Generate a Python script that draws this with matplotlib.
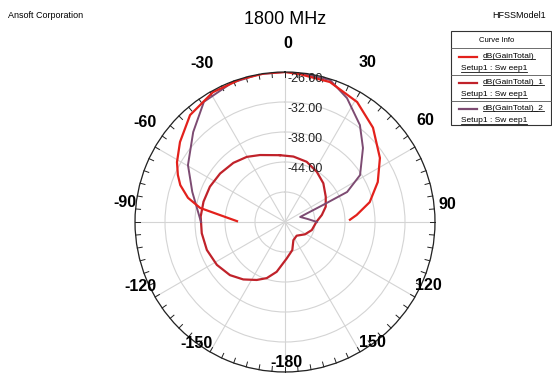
import numpy as np
import matplotlib
matplotlib.use("Agg")
import matplotlib.pyplot as plt
from matplotlib.lines import Line2D
from matplotlib.patches import Rectangle
from matplotlib.transforms import offset_copy

plt.rcParams["font.family"] = ["Liberation Sans", "DejaVu Sans"]

# ---- datos (theta en grados, ganancia en dB) ----
theta_total = [-89, -84, -80.6, -76, -70.6, -66.3, -61, -52.7, -41.6, -29,
               -17.4, -8, 0, 5.8, 17.8, 31, 43, 56, 66.7, 76.8, 84.4, 88]
db_total = [-46.4, -43.0, -38.8, -36.0, -33.8, -32.6, -31.3, -29.6, -27.4, -26.3,
            -26.1, -26.0, -26.0, -26.3, -26.6, -28.0, -30.2, -33.1, -35.8, -38.6,
            -41.6, -43.0]

theta_total1 = [-4.3, 7.3, 19.8, 32.2, 44.7, 58.1, 69.4, 79.2, 89.5, 106.7,
                121.6, 139.5, 155.2, 165.4, 177.3, 189.5, 198, 206, 216, 226,
                237.8, 250.3, 262.3, 273.6, 284, 295.2, 306.8, 318.9, 329.6,
                339.5, 355.7]
db_total1 = [-42.6, -42.8, -43.2, -44.1, -45.1, -46.4, -47.3, -48.5, -49.7, -50.4,
             -51.3, -52.4, -52.0, -50.2, -48.7, -45.9, -44.2, -43.1, -41.8, -40.7,
             -39.9, -39.4, -39.2, -39.1, -39.2, -39.4, -39.8, -40.3, -40.9,
             -41.7, -42.6]

theta_total2 = [-90, -83.4, -72, -59.6, -45.6, -34, -20.9, -10, 0, 4.6, 17.6,
                26.6, 37.7, 46.5, 58, 64.2, 65.9, 71.6, 82.6, 90]
db_total2 = [-39.2, -38.5, -36.5, -33.5, -30.3, -27.0, -26.2, -26.0, -26.0, -26.0,
             -26.2, -28.3, -31.5, -34.5, -38.3, -42.2, -47.7, -52.8, -51.4, -49.6]

curvas = ["dB(GainTotal)", "dB(GainTotal)_1", "dB(GainTotal)_2"]
colores = ["#E3211C", "#C0222A", "#7D4B72"]

anillos = [-50, -44, -38, -32, -26]
etiquetas_anillo = ["-26.00", "-32.00", "-38.00", "-44.00"]
R_MIN, R_MAX = -56, -26

textos_etq = ["0", "30", "-30", "60", "-60", "90", "-90", "120", "-120",
              "150", "-150", "-180"]
# posicion del texto: angulo real y distancia al centro en px
pos_etq = [(1, 179), (27.3, 179), (-27.6, 179), (54, 173), (-54.5, 172),
           (83.7, 163), (-83, 161), (114, 157), (-114, 158), (144, 149),
           (-144, 150), (179.5, 141)]

W, H = 552, 374
fig = plt.figure(figsize=(W / 100, H / 100), dpi=100)
cx, cy, R = 285, 222, 150
ax = fig.add_axes([(cx - R) / W, (H - cy - R) / H, 2 * R / W, 2 * R / H],
                  projection="polar")
ax.set_theta_zero_location("N")
ax.set_theta_direction(-1)
ax.set_rlim(R_MIN, R_MAX)
ax.set_thetagrids(range(0, 360, 30), labels=[])
ax.set_rgrids(anillos, labels=[])
ax.grid(True, color="#d4d4d4", linewidth=0.8)
ax.spines["polar"].set_color("#222222")
ax.spines["polar"].set_linewidth(0.9)
ax.tick_params(length=0)

# marcas cada 5 grados hacia dentro del borde
for a in np.arange(0, 360, 5):
    t = np.deg2rad(a)
    ax.plot([t, t], [R_MAX - 1.0, R_MAX], color="#222222", linewidth=0.7,
            clip_on=False)

th1 = np.deg2rad(theta_total1 + theta_total1[:1])
ax.plot(th1, db_total1 + db_total1[:1], color=colores[1], linewidth=1.6)
ax.plot(np.deg2rad(theta_total2), db_total2, color=colores[2], linewidth=1.4)
ax.plot(np.deg2rad(theta_total), db_total, color=colores[0], linewidth=1.6)

off = offset_copy(ax.transData, fig=fig, x=2, y=-1, units="dots")
for r, s in zip(anillos[::-1], etiquetas_anillo):
    ax.text(0, r, s, transform=off, ha="left", va="top", fontsize=9,
            color="#222222")

for (a, d), s in zip(pos_etq, textos_etq):
    x = 0.5 + d * np.sin(np.deg2rad(a)) / (2 * R)
    y = 0.5 + d * np.cos(np.deg2rad(a)) / (2 * R)
    ax.text(x, y, s, transform=ax.transAxes, ha="center", va="center",
            fontsize=11.5, fontweight="bold", clip_on=False)

fig.text(285 / W, 1 - 19 / H, "1800 MHz", ha="center", va="center", fontsize=13)
fig.text(8 / W, 1 - 16 / H, "Ansoft Corporation", ha="left", va="center",
         fontsize=6.5)
fig.text(546 / W, 1 - 16 / H, "HFSSModel1", ha="right", va="center",
         fontsize=6.5)


# ---- caja "Curve Info" ----
def px(x, y):
    return x / W, 1 - y / H


x0, x1, y0, y1 = 451, 551, 31, 125
fig.add_artist(Rectangle(px(x0, y1), (x1 - x0) / W, (y1 - y0) / H,
                         transform=fig.transFigure, fill=False,
                         edgecolor="#333333", linewidth=0.8))
for ys in [48, 75, 101]:
    fig.add_artist(Line2D([x0 / W, x1 / W], [1 - ys / H] * 2,
                          transform=fig.transFigure, color="#555555",
                          linewidth=0.6))
fig.text(*px(497, 40), "Curve Info", ha="center", va="center", fontsize=5.5)

subrayar = []
for i, (nombre, col) in enumerate(zip(curvas, colores)):
    yl = 57 + 26 * i
    fig.add_artist(Line2D([459 / W, 477 / W], [1 - yl / H] * 2,
                          transform=fig.transFigure, color=col, linewidth=1.6))
    subrayar.append(fig.text(*px(483, yl - 1), nombre, ha="left", va="center",
                             fontsize=6))
    subrayar.append(fig.text(*px(461, yl + 12), "Setup1 : Sw eep1", ha="left",
                             va="center", fontsize=6))

fig.canvas.draw()
inv = fig.transFigure.inverted()
for t in subrayar:
    bb = t.get_window_extent().transformed(inv)
    fig.add_artist(Line2D([bb.x0, bb.x1], [bb.y0 + 0.002] * 2,
                          transform=fig.transFigure, color="#111111",
                          linewidth=0.6))

fig.savefig("out.png", dpi=100)
